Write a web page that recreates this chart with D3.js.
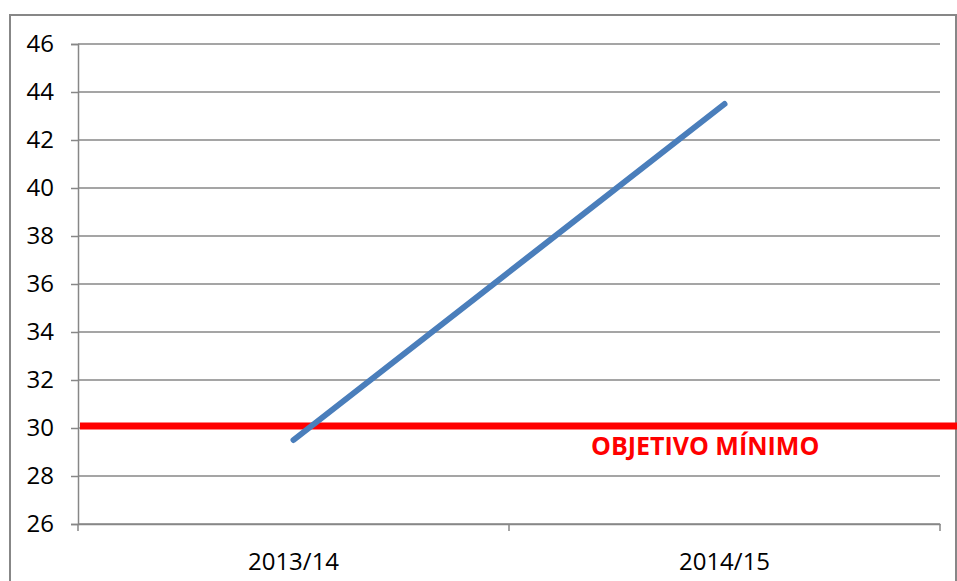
<!DOCTYPE html>
<meta charset="utf-8">
<style>
body { margin: 0; background: #fff; }
text { font-family: "Open Sans", sans-serif; fill: #000; }
.tick text { font-size: 24px; }
.label { font-size: 25px; font-weight: bold; fill: #ff0000; }
</style>
<svg width="957" height="581"></svg>
<script src="https://cdn.jsdelivr.net/npm/d3@7"></script>
<script>

var categories = ["2013/14", "2014/15"],
    values = [29.5, 43.5],
    yTicks = [26, 28, 30, 32, 34, 36, 38, 40, 42, 44, 46],
    objetivo = 30.08,
    objetivoLabel = "OBJETIVO MÍNIMO";

var svg = d3.select("svg"),
    plotLeft = 78, plotRight = 940, plotTop = 44, plotBottom = 524;

// outer frame
svg.append("rect")
    .attr("x", 10).attr("y", 15)
    .attr("width", 946).attr("height", 600)
    .attr("fill", "none").attr("stroke", "#878787").attr("stroke-width", 2);

var x = d3.scaleBand().domain(categories).range([plotLeft, plotRight]);
var y = d3.scaleLinear().domain([26, 46]).range([plotBottom, plotTop]);

// gridlines
svg.append("g").selectAll("line")
    .data(yTicks)
    .enter().append("line")
      .attr("x1", plotLeft).attr("x2", plotRight)
      .attr("y1", function(d) { return y(d); })
      .attr("y2", function(d) { return y(d); })
      .attr("stroke", "#878787").attr("stroke-width", 1.5);

var yAxis = svg.append("g")
    .attr("transform", "translate(" + plotLeft + ",0)")
    .call(d3.axisLeft(y).tickValues(yTicks).tickSize(7).tickPadding(17));

// x axis with ticks at band boundaries
var xAxis = svg.append("g")
    .attr("transform", "translate(0," + plotBottom + ")")
    .call(d3.axisBottom(x).tickSize(0).tickPadding(29));

xAxis.selectAll(".bound")
    .data([plotLeft].concat(categories.map(function(c) { return x(c) + x.bandwidth(); })))
    .enter().append("line")
      .attr("x1", function(d) { return d; }).attr("x2", function(d) { return d; })
      .attr("y1", 0).attr("y2", 7)
      .attr("stroke", "#878787").attr("stroke-width", 1.5);

svg.selectAll(".domain").attr("stroke", "#878787").attr("stroke-width", 1.5);
yAxis.selectAll(".tick line").attr("stroke", "#878787").attr("stroke-width", 1.5);

// target line
svg.append("line")
    .attr("x1", plotLeft + 2).attr("x2", 957)
    .attr("y1", y(objetivo)).attr("y2", y(objetivo))
    .attr("stroke", "#ff0000").attr("stroke-width", 7);

svg.append("text")
    .attr("class", "label")
    .attr("x", 591).attr("y", y(objetivo) + 29)
    .text(objetivoLabel);

// series line
var line = d3.line()
    .x(function(d, i) { return x(categories[i]) + x.bandwidth() / 2; })
    .y(function(d) { return y(d); });

svg.append("path")
    .datum(values)
    .attr("d", line)
    .attr("fill", "none")
    .attr("stroke", "#4a7ebb")
    .attr("stroke-width", 6)
    .attr("stroke-linecap", "round");

</script>
